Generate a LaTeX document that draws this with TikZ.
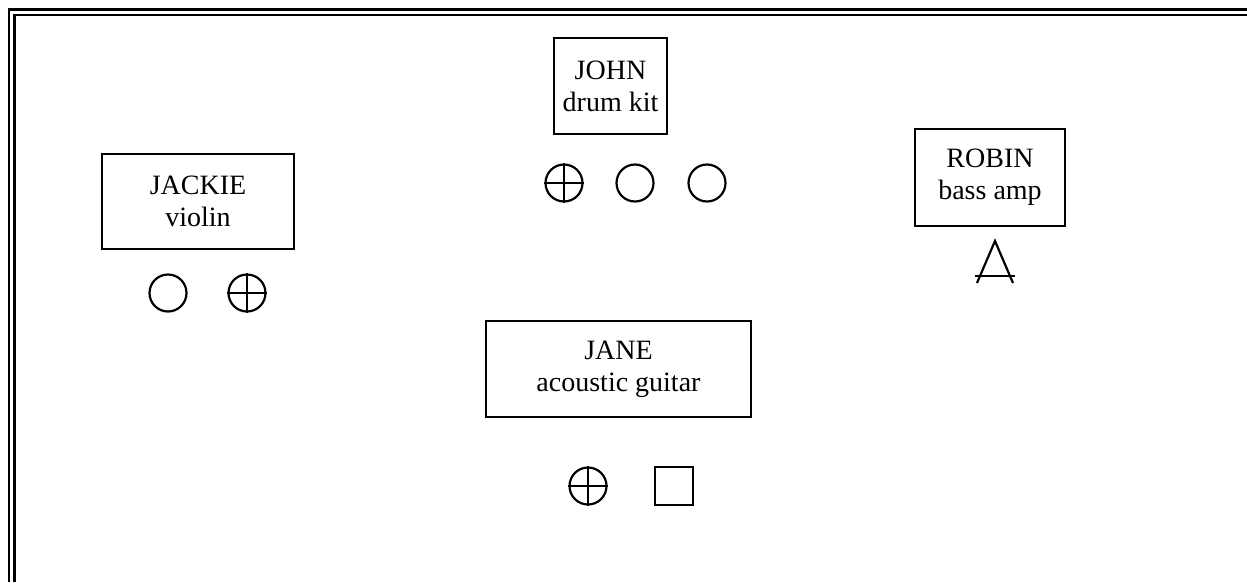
\documentclass[tikz,border=0pt]{standalone}
\usepackage{fontspec}
\setmainfont{Liberation Serif}
\usepackage{tikz}
\usetikzlibrary{calc}

\begin{document}
\begin{tikzpicture}[x=1pt, y=-1pt,
  player/.style={draw, line width=2.2pt, align=center, inner sep=0pt, font=\fontsize{28}{32}\selectfont},
  mic/.style={draw, circle, line width=2.2pt, minimum size=37pt, inner sep=0pt},
  box/.style={draw, rectangle, line width=2.2pt, minimum size=38pt, inner sep=0pt},
  rule/.style={line width=2.8pt}]
\useasboundingbox (0,0) rectangle (1247,582);
% double frame, top and left only
\draw[rule] (9,582) -- (9,9.5) -- (1247,9.5);
\draw[rule] (14.5,582) -- (14.5,15) -- (1247,15);
% players
\node[player, minimum width=192pt, minimum height=95pt] (jackie) at (198,201.5) {JACKIE\\violin};
\node[player, minimum width=113pt, minimum height=96pt] (john) at (610.5,86) {JOHN\\drum kit};
\node[player, minimum width=150pt, minimum height=97pt] (robin) at (990,177.5) {ROBIN\\bass amp};
\node[player, minimum width=265pt, minimum height=96pt] (jane) at (618.5,369) {JANE\\acoustic guitar};
% jackie
\node[mic] (jk1) at (168,293) {};
\node[mic] (jk2) at (247,293) {};
\draw[line width=2.2pt] (jk2.north) -- (jk2.south) (jk2.west) -- (jk2.east);
% john
\node[mic] (jn1) at (564,183) {};
\node[mic] (jn2) at (635,183) {};
\node[mic] (jn3) at (707,183) {};
\draw[line width=2.2pt] (jn1.north) -- (jn1.south) (jn1.west) -- (jn1.east);
% robin
\coordinate (rb) at (995,241);
\draw[line width=2.2pt] ($(rb)+(-18,42)$) -- (rb) -- ($(rb)+(18,42)$);
\draw[line width=2.2pt] ($(rb)+(-20,35)$) -- ($(rb)+(20,35)$);
% jane
\node[mic] (ja1) at (588,486) {};
\draw[line width=2.2pt] (ja1.north) -- (ja1.south) (ja1.west) -- (ja1.east);
\node[box] (ja2) at (674,486) {};
\end{tikzpicture}
\end{document}
